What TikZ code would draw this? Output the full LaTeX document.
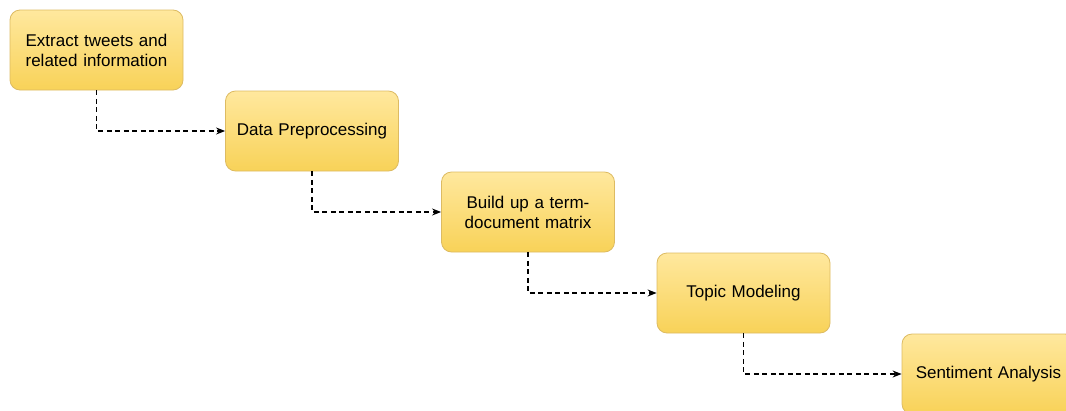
\documentclass[tikz,border=0pt]{standalone}
\usepackage{fontspec}
\setmainfont{Liberation Sans}
\usetikzlibrary{arrows.meta}
\usetikzlibrary{positioning}

\definecolor{boxtop}{HTML}{FFE89E}
\definecolor{boxbottom}{HTML}{F8D258}
\definecolor{boxline}{HTML}{DDBB62}

\begin{document}
\begin{tikzpicture}[
  x=1pt, y=-1pt,
  > = {Stealth[length=9pt,width=7pt]},
  stepbox/.style = {draw=boxline, line width=0.8pt, rounded corners=10pt,
    top color=boxtop, bottom color=boxbottom,
    minimum width=173pt, minimum height=80pt, inner sep=0pt,
    text width=165pt, align=center, font=\fontsize{17pt}{20pt}\selectfont},
  flow/.style = {->, line width=1.3pt, dash pattern=on 5pt off 3.5pt}
  ]
	\useasboundingbox (0,0) rectangle (1066,410);
	\clip (0,0) rectangle (1066,410);

	\node[stepbox] (extract) at (96.5,50) {Extract tweets and\\related information};
	\node[stepbox] (prep) at (312,131) {Data Preprocessing};
	\node[stepbox] (matrix) at (528,212) {Build up a term-\\document matrix};
	\node[stepbox] (topic) at (743.5,293) {Topic Modeling};
	\node[stepbox] (sentiment) at (988.5,374) {Sentiment Analysis};

	\draw[flow] (extract.south) |- (prep.west);
	\draw[flow] (prep.south) |- (matrix.west);
	\draw[flow] (matrix.south) |- (topic.west);
	\draw[flow] (topic.south) |- (sentiment.west);
\end{tikzpicture}
\end{document}
